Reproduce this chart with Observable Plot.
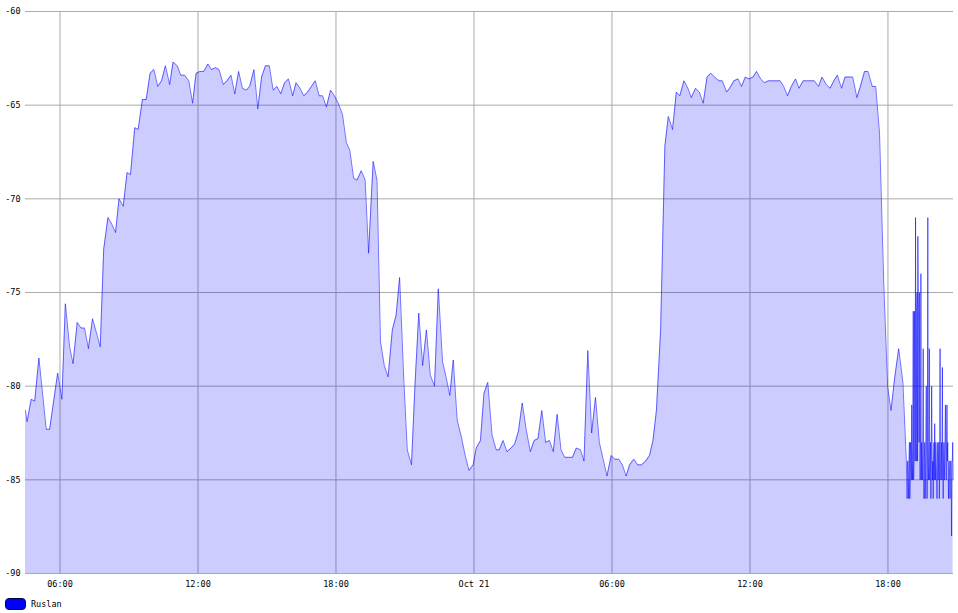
<!DOCTYPE html>
<html><head><meta charset="utf-8">
<script src="https://cdn.jsdelivr.net/npm/d3@7"></script>
<script src="https://cdn.jsdelivr.net/npm/@observablehq/plot@0.6"></script>
<style>
body{margin:0;background:#fff;font-family:"DejaVu Sans Mono",monospace;}
#legend{display:flex;align-items:center;height:12px;margin-top:5px;margin-left:5px;font-size:8.5px;color:#000;}
.sw{display:inline-block;width:19px;height:10px;background:#0000ff;border:1px solid #000044;border-radius:4px;margin-right:5px;box-sizing:content-box;}
</style></head><body><div id="chart"></div><div id="legend"><span class="sw"></span><span id="lname"></span></div>
<script>
const seriesName = "Ruslan";
// minutes since Oct 20 00:00
const minutes = [270,274,285,294,305,324,333,354,365,374,385,394,405,415,424,434,445,465,474,485,494,505,514,525,535,544,555,564,575,585,595,605,615,625,635,646,655,666,675,685,696,706,715,725,735,746,755,766,775,786,796,806,816,826,836,846,855,866,876,886,896,906,916,926,936,946,956,967,976,986,996,1006,1016,1026,1036,1045,1055,1066,1076,1086,1097,1107,1116,1126,1135,1146,1156,1165,1177,1187,1196,1206,1216,1227,1237,1246,1257,1266,1277,1286,1296,1306,1316,1326,1337,1347,1358,1367,1377,1386,1396,1407,1417,1427,1438,1446,1457,1466,1476,1487,1498,1506,1516,1526,1537,1546,1556,1566,1576,1587,1597,1607,1617,1627,1637,1647,1657,1667,1677,1687,1697,1707,1718,1727,1737,1747,1757,1767,1777,1787,1798,1807,1818,1827,1837,1846,1857,1867,1877,1888,1898,1907,1916,1927,1938,1947,1958,1968,1977,1988,1998,2007,2018,2028,2038,2048,2058,2068,2079,2088,2099,2107,2118,2129,2138,2148,2157,2168,2177,2188,2198,2208,2219,2228,2239,2248,2258,2268,2279,2288,2299,2308,2319,2328,2339,2348,2359,2369,2379,2388,2399,2408,2419,2428,2439,2448,2459,2468,2479,2488,2498,2509,2519,2528,2538,2548,2559,2568,
2569,2570,2571,2572,2573,2574,2575,2576,2577,2578,2579,2580,2581,2582,2583,2584,2585,2586,2587,2588,2589,2590,2591,2592,2593,2594,2595,2596,2597,2598,2599,2600,2601,2602,2603,2604,2605,2606,2607,2608,2609,2610,2611,2612,2613,2614,2615,2616,2617,2618,2619,2620,2621,2622,2623,2624,2625,2626,2627,2628,2629,2630,2631,2632,2633,2634,2635,2636,2637,2638,2639,2640,2641,2642,2643,2644,2645,2646,2647,2648,2649,2650,2651,2652,2653,2654,2655,2656,2657,2658,2659,2660,2661,2662,2663,2664,2665,2666,2667,2668,2669,2670,2671,2672,2673,2674,2675,2676,2677,2678,2679,2680,2681,2682,2683,2684,2685,2686,2687,2688,2689,2690];
const rssi = [-81.3,-81.9,-80.7,-80.8,-78.5,-82.3,-82.3,-79.3,-80.7,-75.6,-77.9,-78.8,-76.6,-76.9,-76.9,-78.0,-76.4,-77.9,-72.7,-71.0,-71.3,-71.8,-70.0,-70.4,-68.6,-68.7,-66.2,-66.3,-64.7,-64.7,-63.3,-63.1,-64.0,-63.7,-62.9,-63.9,-62.7,-62.9,-63.4,-63.4,-63.7,-64.9,-63.3,-63.2,-63.2,-62.8,-63.1,-63.0,-63.1,-63.9,-63.7,-63.4,-64.4,-63.2,-64.1,-64.2,-64.0,-63.1,-65.2,-63.5,-62.9,-62.9,-64.2,-64.0,-64.4,-63.8,-63.6,-64.5,-63.8,-64.1,-64.5,-64.3,-64.0,-63.7,-64.5,-64.5,-65.1,-64.2,-64.5,-64.9,-65.5,-67.0,-67.4,-68.9,-69.0,-68.5,-69.0,-72.9,-68.0,-69.0,-77.6,-78.9,-79.5,-77.0,-76.2,-74.2,-79.7,-83.4,-84.2,-80.0,-76.1,-78.9,-77.0,-79.4,-80.0,-74.8,-78.7,-79.5,-80.5,-78.6,-81.8,-82.7,-83.7,-84.5,-84.2,-83.3,-82.9,-80.4,-79.8,-82.6,-83.4,-83.4,-82.9,-83.5,-83.3,-83.1,-82.4,-80.9,-82.3,-83.5,-82.9,-82.8,-81.3,-83.0,-82.9,-83.5,-81.5,-83.4,-83.8,-83.8,-83.8,-83.3,-83.4,-84.0,-78.1,-82.5,-80.6,-83.0,-83.9,-84.8,-83.7,-83.9,-83.9,-84.2,-84.8,-84.2,-83.9,-84.2,-84.2,-84.0,-83.7,-82.9,-81.3,-77.0,-67.2,-65.6,-66.3,-64.3,-64.5,-63.7,-64.1,-64.6,-64.1,-64.3,-64.9,-63.5,-63.3,-63.5,-63.7,-63.7,-64.3,-64.1,-63.7,-63.6,-64.0,-63.5,-63.6,-63.5,-63.2,-63.6,-63.8,-63.7,-63.7,-63.7,-63.7,-64.0,-64.5,-64.0,-63.6,-64.1,-63.7,-63.7,-63.7,-63.7,-64.0,-63.5,-63.9,-64.1,-63.7,-63.4,-64.1,-63.5,-63.5,-63.5,-64.6,-64.0,-63.2,-63.2,-64.0,-64.0,-66.5,-74.5,-80.0,-81.3,-79.5,-78.0,-79.8,-84.0,
-85,-86,-84,-84,-85,-86,-84,-83,-86,-85,-83,-84,-85,-81,-84,-85,-83,-76,-85,-84,-76,-80,-84,-71,-83,-84,-76,-75,-84,-72,-75,-77,-83,-75,-84,-85,-83,-74,-85,-83,-84,-85,-83,-78,-84,-86,-84,-83,-86,-85,-83,-80,-84,-86,-84,-71,-84,-85,-83,-78,-85,-84,-83,-86,-84,-80,-83,-85,-84,-86,-84,-83,-85,-82,-84,-85,-83,-84,-85,-86,-84,-83,-85,-84,-83,-86,-84,-78,-84,-85,-84,-83,-85,-79,-84,-86,-84,-83,-85,-84,-83,-81,-84,-85,-83,-81,-84,-83,-85,-86,-84,-84,-85,-86,-84,-84,-85,-88,-84,-84,-83,-85];
const yTicks = [-90,-85,-80,-75,-70,-65,-60];
const xTickMinutes = [360,720,1080,1440,1800,2160,2520];
const xDomainMinutes = [270,2691];

const start = Date.UTC(2014,9,20);
const toDate = m => new Date(start + m*60000);
const data = minutes.map((m,i)=>({t:toDate(m), v:rssi[i]}));
const xTicks = xTickMinutes.map(toDate);
const fmt = d3.utcFormat("%H:%M");

const chart = Plot.plot({
  width:958, height:593,
  marginLeft:25, marginRight:5, marginTop:11, marginBottom:20,
  style:{fontFamily:"DejaVu Sans Mono, monospace", fontSize:"8.5px", background:"#fff", color:"#000", overflow:"visible"},
  x:{type:"utc", domain:xDomainMinutes.map(toDate), label:null},
  y:{domain:[-90,-60], label:null},
  marks:[
    Plot.gridX(xTicks,{stroke:"#aaa", strokeOpacity:1}),
    Plot.gridY(yTicks,{stroke:"#aaa", strokeOpacity:1}),
    Plot.areaY(data,{x:"t", y1:-90, y2:"v", fill:"blue", fillOpacity:0.2, curve:"linear"}),
    Plot.lineY(data,{x:"t", y:"v", stroke:"blue", strokeOpacity:0.55, strokeWidth:1}),
    Plot.axisX(xTicks,{tickSize:0, tickPadding:7, tickFormat:d => d.getUTCHours()===0 ? "Oct 21" : fmt(d), label:null}),
    Plot.axisY(yTicks,{tickSize:0, tickPadding:5, tickFormat:d => String(d), label:null})
  ]
});
document.getElementById("chart").appendChild(chart);
document.getElementById("lname").textContent = seriesName;
</script></body></html>
